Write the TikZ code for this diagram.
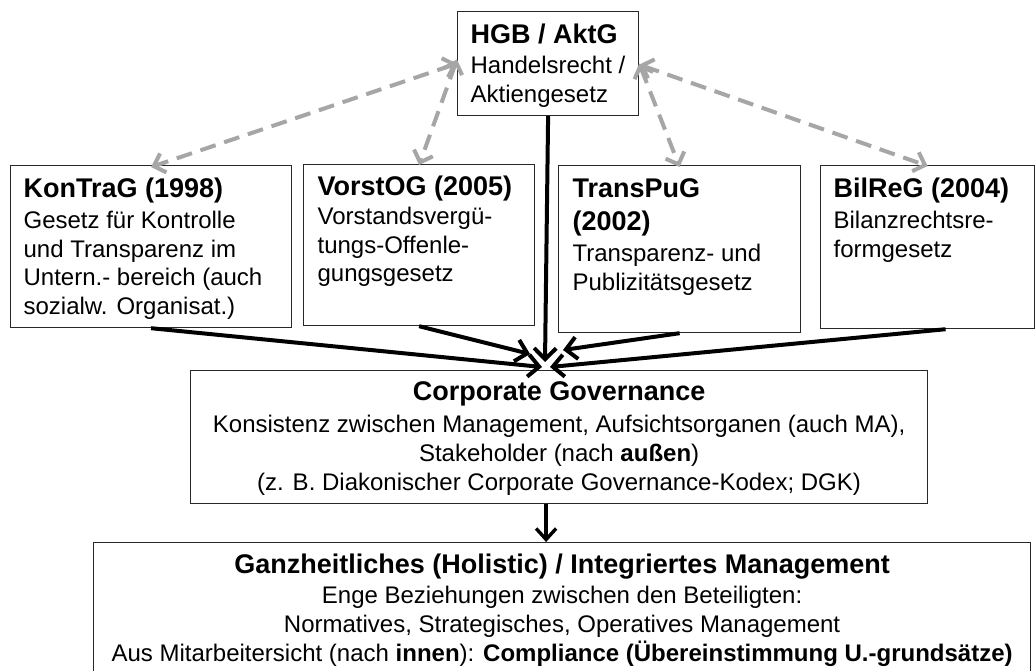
\documentclass[tikz,border=0pt]{standalone}
\usepackage{fontspec}
\setmainfont{Liberation Sans}
\usetikzlibrary{arrows.meta,calc}
\definecolor{dashgray}{RGB}{166,166,166}
\definecolor{boxline}{RGB}{40,40,40}
\newcommand{\mybody}{\fontsize{24}{28.5}\selectfont}
\newcommand{\titletext}[1]{{\fontsize{27}{28.5}\selectfont\bfseries #1}}
\begin{document}
\begin{tikzpicture}[x=1pt,y=-1pt,
  lawbox/.style={draw=boxline, line width=1.2pt, inner ysep=0pt, anchor=north west, fill=white},
  grayarrow/.style={draw=dashgray, line width=4pt, dash pattern=on 16pt off 9pt,
    {Straight Barb[length=10pt,width=20pt]}-{Straight Barb[length=10pt,width=20pt]}},
  blackarrow/.style={draw=black, line width=4pt, -{Straight Barb[length=11pt,width=22pt]}},
  downarrow/.style={draw=black, line width=3.4pt, -{Straight Barb[length=11pt,width=20pt]}}]
\useasboundingbox (0,0) rectangle (1035,670);
\clip (0,0) rectangle (1035,670);
\fill[white] (0,0) rectangle (1035,670);

\node[lawbox, inner xsep=13pt] (hgb) at (457,11)
  {\parbox[c][104pt][t]{155pt}{\mybody\rule{0pt}{32pt}\titletext{HGB / AktG}\\[1.5pt]
   Handelsrecht /\\[0.5pt]
   Aktiengesetz}};

\node[lawbox, inner xsep=13pt] (kon) at (10,165)
  {\parbox[c][162pt][t]{255pt}{\mybody\rule{0pt}{32pt}\titletext{KonTraG (1998)}\\[2.5pt]
   Gesetz für Kontrolle\\
   und Transparenz im\\
   Untern.- bereich (auch\\
   sozialw. Organisat.)}};

\node[lawbox, inner xsep=14pt] (vor) at (303,164)
  {\parbox[c][161pt][t]{203pt}{\mybody\rule{0pt}{31pt}\titletext{VorstOG (2005)}\\[0.5pt]
   Vorstandsvergü-\\
   tungs-Offenle-\\
   gungsgesetz}};

\node[lawbox, inner xsep=14pt] (tra) at (558,165)
  {\parbox[c][167pt][t]{214pt}{\mybody\rule{0pt}{32pt}\titletext{TransPuG}\\[4.5pt]
   \titletext{(2002)}\\[2.5pt]
   Transparenz- und\\
   Publizitätsgesetz}};

\node[lawbox, inner xsep=13pt] (bil) at (820,165)
  {\parbox[c][163pt][t]{188pt}{\mybody\rule{0pt}{32pt}\titletext{BilReG (2004)}\\[2.5pt]
   Bilanzrechtsre-\\
   formgesetz}};

\node[lawbox, inner xsep=0pt] (cg) at (190,370)
  {\parbox[c][133pt][t]{737pt}{\centering\mybody\rule{0pt}{30pt}\titletext{Corporate Governance}\\[3.5pt]
   Konsistenz zwischen Management, Aufsichtsorganen (auch MA),\\[0.5pt]
   Stakeholder (nach \textbf{außen})\\[0.5pt]
   (z. B. Diakonischer Corporate Governance-Kodex; DGK)}};

\node[lawbox, inner xsep=0pt] (bot) at (93,542)
  {\parbox[c][160pt][t]{937pt}{\centering\mybody\rule{0pt}{31pt}\titletext{Ganzheitliches (Holistic) / Integriertes Management}\\[1.5pt]
   Enge Beziehungen zwischen den Beteiligten:\\[0.5pt]
   Normatives, Strategisches, Operatives Management\\[0.5pt]
   Aus Mitarbeitersicht (nach \textbf{innen}): \textbf{Compliance (Übereinstimmung U.-grundsätze)}}};

% dashed grey connectors
\draw[grayarrow] (hgb.west) -- ([yshift=-2pt]kon.north);
\draw[grayarrow] ([yshift=4pt]hgb.west) -- ([yshift=-1pt]vor.north);
\draw[grayarrow] (hgb.east) -- ([yshift=-2pt]tra.north);
\draw[grayarrow] ([yshift=-1pt]hgb.east) -- ([yshift=-1pt]bil.north);

% black connectors into Corporate Governance
\coordinate (tk) at (542,367);
\coordinate (tv) at (530,354);
\coordinate (th) at (545,362);
\coordinate (tt) at (563,350);
\coordinate (tb) at (550,367);
\draw[blackarrow] (kon.south) -- (tk);
\draw[blackarrow] (vor.south) -- (tv);
\draw[blackarrow] (hgb.south) -- (th);
\draw[blackarrow] (tra.south) -- (tt);
\draw[blackarrow] ([xshift=18pt]bil.south) -- (tb);

% Corporate Governance -> integrated management
\draw[downarrow] ([xshift=-13pt]cg.south) -- ([xshift=-13pt]cg.south |- bot.north);
\end{tikzpicture}
\end{document}
